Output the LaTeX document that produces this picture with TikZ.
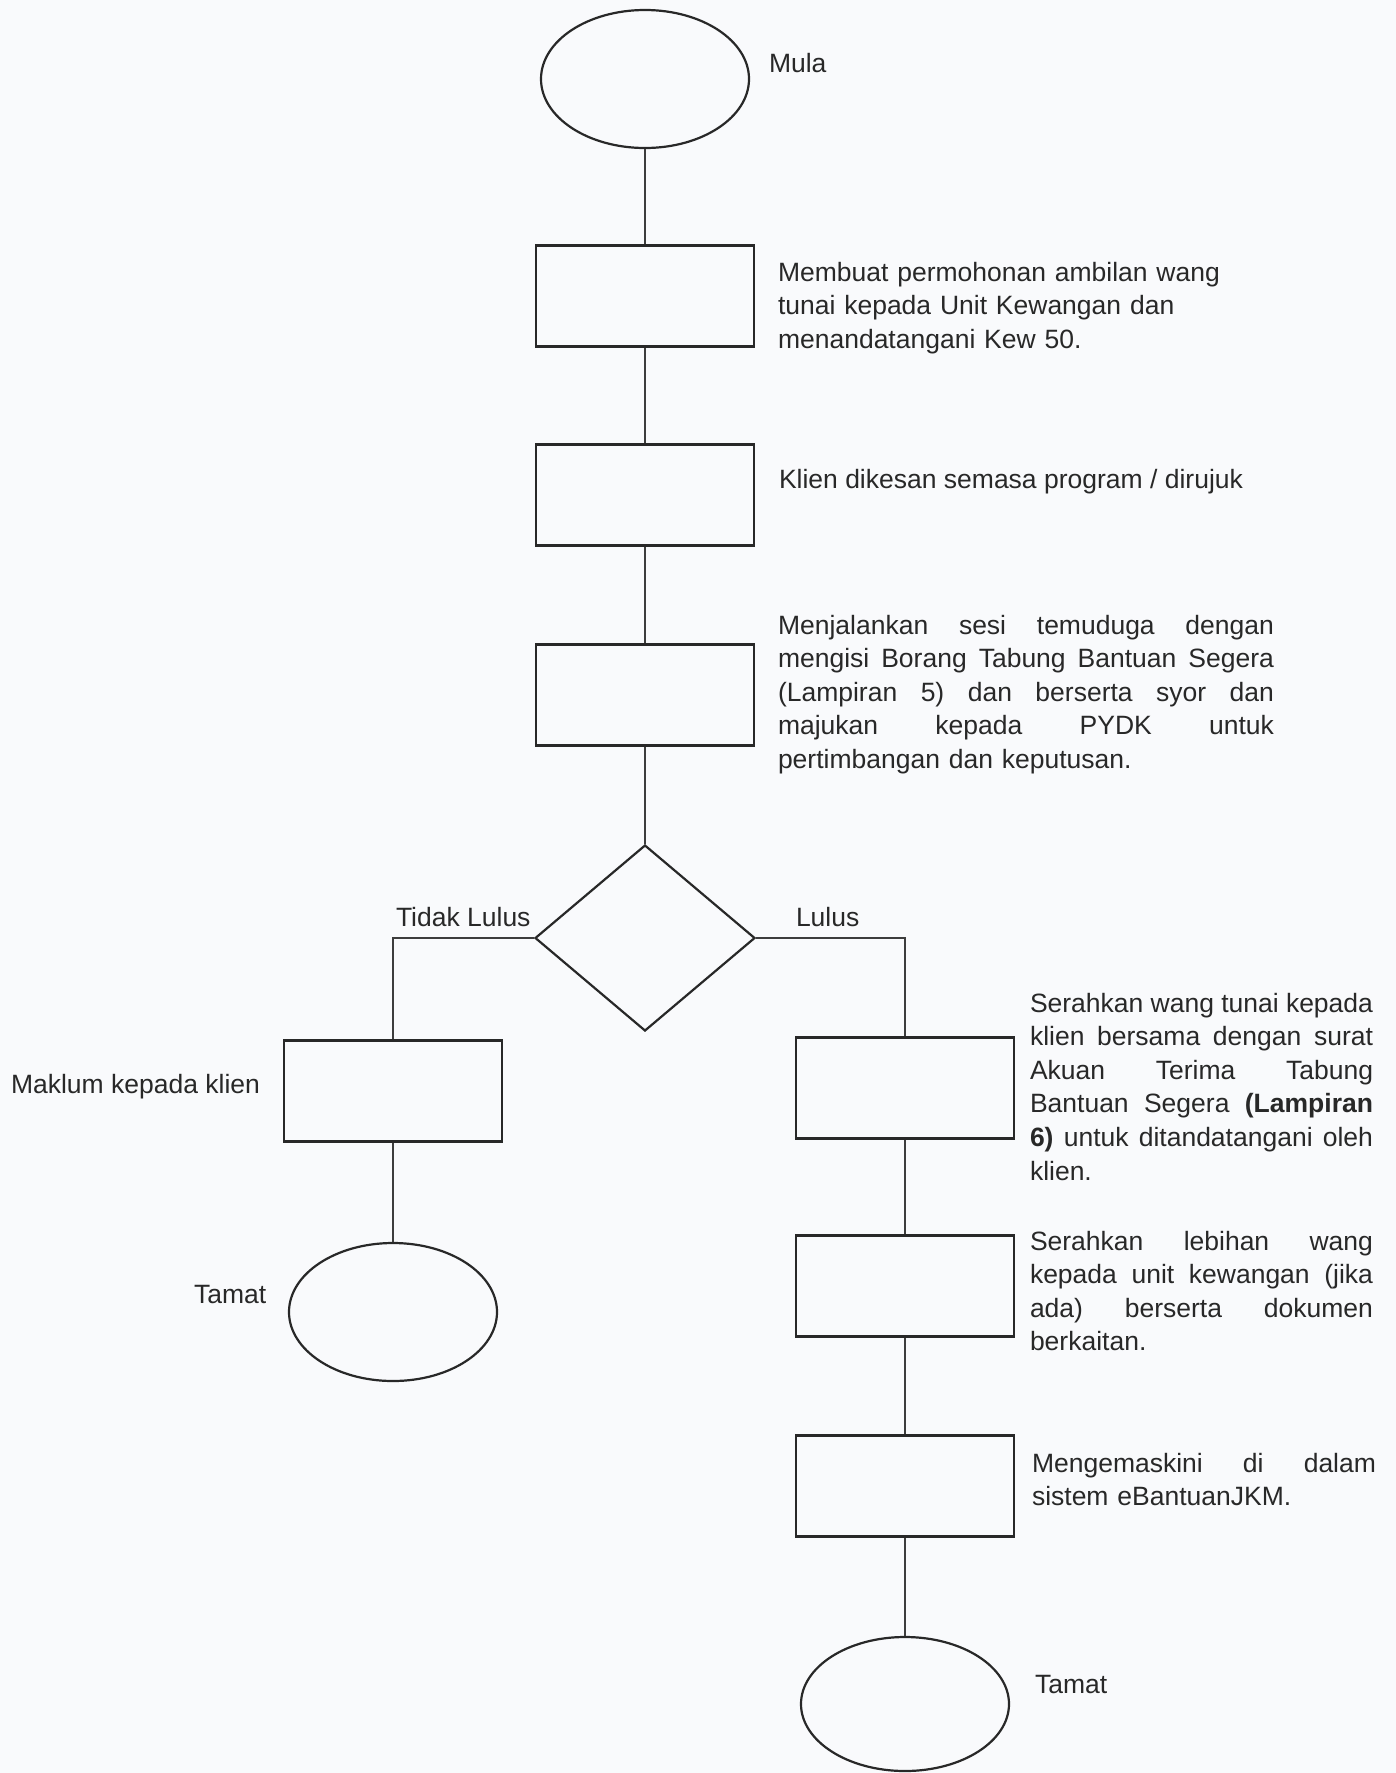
\documentclass[tikz,border=0pt]{standalone}
\usepackage{fontspec}
\setmainfont{Liberation Sans}
\usetikzlibrary{shapes.geometric}
\definecolor{bgc}{RGB}{249,250,252}
\definecolor{ink}{RGB}{40,40,40}
\newcommand\jline[2]{\makebox[#1][s]{\spaceskip=0.25em plus 1fil\relax\xspaceskip=0pt\relax #2}}
\begin{document}
\begin{tikzpicture}[x=1pt,y=-1pt,
  shapeline/.style={draw=ink, line width=2.2pt},
  procbox/.style={shapeline, rectangle, minimum width=218pt, minimum height=101pt, inner sep=0pt},
  term/.style={shapeline, ellipse, minimum width=208pt, minimum height=138pt, inner sep=0pt},
  decision/.style={shapeline, diamond, minimum width=220pt, minimum height=186pt, inner sep=0pt},
  conn/.style={draw=ink!90, line width=1.8pt},
  lbl/.style={font=\fontsize{26.5}{33.6}\selectfont, inner sep=0pt, outer sep=0pt, anchor=base west, text=ink},
  para/.style={lbl, text width=#1, align=left}
]
\fill[bgc] (0,0) rectangle (1396,1773);
\useasboundingbox (0,0) rectangle (1396,1773);

% main column
\node[term] (mula) at (645,79) {};
\node[procbox] (b1) at (645,296) {};
\node[procbox] (b2) at (645,495) {};
\node[procbox] (b3) at (645,695) {};
\node[decision] (dec) at (645,938) {};
% left column
\node[procbox] (b4) at (393,1091) {};
\node[term] (tamatL) at (393,1312) {};
% right column
\node[procbox] (b5) at (905,1088) {};
\node[procbox] (b6) at (905,1286) {};
\node[procbox] (b7) at (905,1486) {};
\node[term, minimum height=134pt] (tamatR) at (905,1704) {};

% connectors
\draw[conn] (mula.south) -- (b1.north);
\draw[conn] (b1.south) -- (b2.north);
\draw[conn] (b2.south) -- (b3.north);
\draw[conn] (b3.south) -- (dec.north);
\draw[conn] (dec.west) -| (b4.north);
\draw[conn] (dec.east) -| (b5.north);
\draw[conn] (b4.south) -- (tamatL.north);
\draw[conn] (b5.south) -- (b6.north);
\draw[conn] (b6.south) -- (b7.north);
\draw[conn] (b7.south) -- (tamatR.north);

% texts
\node[lbl] (tmula) at (769,72) {Mula};
\node[para=480pt] (t1) at (778,281) {Membuat permohonan ambilan wang\\tunai kepada Unit Kewangan dan\\menandatangani Kew 50.};
\node[lbl] (t2) at (779,488) {Klien dikesan semasa program / dirujuk};
\node[para=496pt] (t3) at (778,634) {%
\jline{496pt}{Menjalankan sesi temuduga dengan}\\
\jline{496pt}{mengisi Borang Tabung Bantuan Segera}\\
\jline{496pt}{(Lampiran 5) dan berserta syor dan}\\
\jline{496pt}{majukan kepada PYDK untuk}\\
pertimbangan dan keputusan.};
\node[lbl] (ttidak) at (396,926) {Tidak Lulus};
\node[lbl] (tlulus) at (796,926) {Lulus};
\node[lbl] (tmaklum) at (11,1093) {Maklum kepada klien};
\node[lbl] (ttamatL) at (194,1303) {Tamat};
\node[para=343pt] (t5) at (1030,1012) {%
\jline{343pt}{Serahkan wang tunai kepada}\\
\jline{343pt}{klien bersama dengan surat}\\
\jline{343pt}{Akuan Terima Tabung}\\
\jline{343pt}{Bantuan Segera \textbf{(Lampiran}}\\
\jline{343pt}{\textbf{6)} untuk ditandatangani oleh}\\
klien.};
\node[para=343pt] (t6) at (1030,1250) {%
\jline{343pt}{Serahkan lebihan wang}\\
\jline{343pt}{kepada unit kewangan (jika}\\
\jline{343pt}{ada) berserta dokumen}\\
berkaitan.};
\node[para=344pt] (t7) at (1032,1472) {%
\jline{344pt}{Mengemaskini di dalam}\\
sistem eBantuanJKM.};
\node[lbl] (ttamatR) at (1035,1693) {Tamat};
\end{tikzpicture}
\end{document}
